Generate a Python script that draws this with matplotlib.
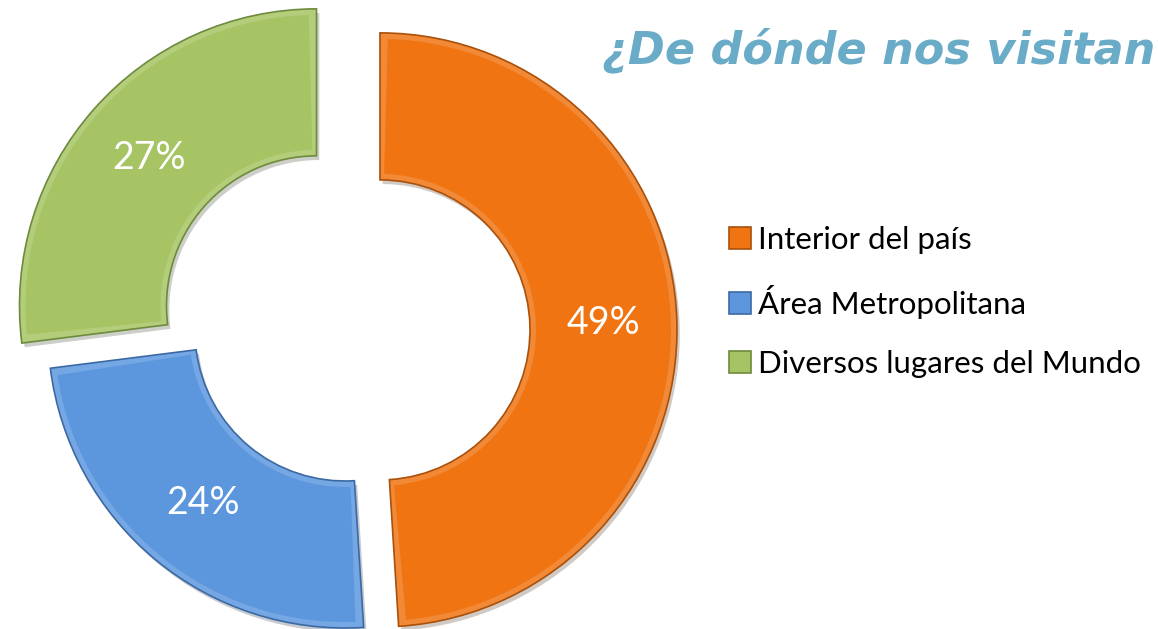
import matplotlib
matplotlib.use('Agg')
import matplotlib.pyplot as plt
import matplotlib.patheffects as pe
from matplotlib.patches import Wedge
from matplotlib.colors import to_rgb

# ¿De dónde nos visitan? -- donut with two pulled-out slices
labels = ['Interior del país', 'Área Metropolitana', 'Diversos lugares del Mundo']
shares = [49, 24, 27]
colors = ['#F07412', '#5C97DE', '#A6C464']
edges = ['#A9500B', '#3C69A3', '#6E8A3C']
pull = [35, 0, 38]  # explode, in pixels

W, H = 1158, 629
fig = plt.figure(figsize=(W / 100, H / 100), dpi=100)
ax = fig.add_axes([0, 0, 1, 1])


def lighter(c, f=0.15):
    r, g, b = to_rgb(c)
    return (r + (1 - r) * f, g + (1 - g) * f, b + (1 - b) * f)


wedges, texts, pcts = ax.pie(
    shares, colors=[lighter(c) for c in colors], explode=pull, startangle=90,
    counterclock=False, center=(345, H - 331), radius=297, autopct='%1.0f%%',
    pctdistance=0.7525, wedgeprops=dict(width=147, linewidth=1.2),
    textprops=dict(color='white', fontsize=27, family='Lato'))

# rough bevel: lighter rim, main colour inside
bevel = 6
for w, c, ec in zip(wedges, colors, edges):
    w.set_edgecolor(ec)
    w.set_path_effects([pe.SimplePatchShadow(offset=(2, -3), alpha=0.25),
                        pe.Normal()])
    dth = bevel / (w.r - w.width / 2) * 57.2958
    inner = Wedge(w.center, w.r - bevel, w.theta1 + dth, w.theta2 - dth,
                  width=w.width - 2 * bevel, facecolor=c, edgecolor='none',
                  zorder=w.get_zorder() + 0.1)
    ax.add_patch(inner)
for t in pcts:
    t.set_zorder(5)

ax.set_xlim(0, W)
ax.set_ylim(0, H)
ax.set_aspect('equal')
ax.axis('off')

ax.text(1155, H - 63, '¿De dónde nos visitan', ha='right', va='baseline',
        fontsize=32, fontweight='bold', style='italic',
        family='DejaVu Sans', color='#6AABC8')

leg = ax.legend([Wedge((0, 0), 1, 0, 90, facecolor=c, edgecolor=e)
                 for c, e in zip(colors, edges)], labels, loc='upper left',
                bbox_to_anchor=(713 / W, 1 - 210 / H), frameon=False,
                prop=dict(family='Lato', size=22.5),
                handlelength=0.7, handleheight=0.7, handletextpad=0.25,
                labelspacing=1.0, borderpad=0)
for h in leg.legend_handles:
    h.set_linewidth(1.2)

fig.savefig('out.png', dpi=100)
